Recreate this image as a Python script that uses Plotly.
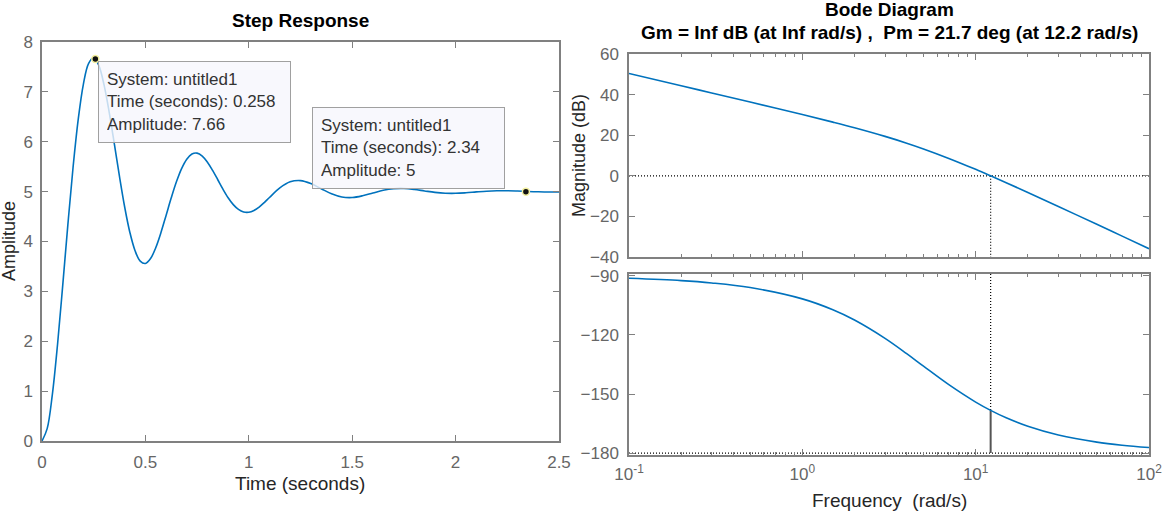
import plotly.graph_objects as go

W, H = 1169, 513

# ---------------- data ----------------
time_s = [0.0, 0.025, 0.05, 0.075, 0.1, 0.125, 0.15, 0.175, 0.2, 0.225, 0.25, 0.275,
          0.3, 0.325, 0.35, 0.375, 0.4, 0.425, 0.45, 0.475, 0.5, 0.525, 0.55, 0.575,
          0.6, 0.625, 0.65, 0.675, 0.7, 0.725, 0.75, 0.775, 0.8, 0.825, 0.85, 0.875,
          0.9, 0.925, 0.95, 0.975, 1.0, 1.025, 1.05, 1.075, 1.1, 1.15, 1.2, 1.25,
          1.3, 1.35, 1.4, 1.45, 1.5, 1.55, 1.6, 1.65, 1.7, 1.75, 1.8, 1.85, 1.9,
          1.95, 2.0, 2.05, 2.1, 2.15, 2.2, 2.25, 2.3, 2.35, 2.4, 2.45, 2.5]
amplitude = [0.0, 0.248, 0.931, 1.930, 3.109, 4.334, 5.479, 6.443, 7.152, 7.568, 7.685, 7.526,
             7.140, 6.590, 5.952, 5.295, 4.687, 4.181, 3.815, 3.607, 3.560, 3.658, 3.876, 4.177,
             4.523, 4.875, 5.197, 5.462, 5.651, 5.755, 5.772, 5.712, 5.590, 5.425, 5.238, 5.049,
             4.878, 4.740, 4.643, 4.592, 4.587, 4.623, 4.691, 4.781, 4.882, 5.073, 5.196, 5.221,
             5.162, 5.058, 4.956, 4.893, 4.882, 4.916, 4.972, 5.026, 5.058, 5.063, 5.044, 5.014, 4.985,
             4.968, 4.966, 4.977, 4.994, 5.009, 5.017, 5.018, 5.012, 5.003, 4.996, 4.992, 4.993]

tip_time = [0.258, 2.34]
tip_amp = [7.66, 5.0]
tip_text = ["System: untitled1<br>Time (seconds): 0.258<br>Amplitude: 7.66",
            "System: untitled1<br>Time (seconds): 2.34<br>Amplitude: 5"]

freq = [0.1, 0.2, 0.3, 0.5, 1, 1.5, 2, 3, 4, 5, 7, 10, 12.2, 15, 20, 30, 50, 70, 100]
mag_db = [50.37, 44.34, 40.81, 36.34, 30.19, 26.45, 23.67, 19.42, 16.08, 13.25, 8.58, 3.17,
          0.0, -3.38, -8.20, -15.10, -23.91, -29.73, -35.92]
phase_deg = [-91.18, -92.36, -93.54, -95.88, -101.64, -107.17, -112.39, -121.71, -129.49,
             -135.84, -145.25, -154.10, -158.30, -162.07, -166.36, -170.81, -174.45, -176.03, -177.22]

wc = 12.2      # gain crossover (rad/s)
pm = 21.7      # phase margin (deg)

step_xticks = [0, 0.5, 1, 1.5, 2, 2.5]
step_xlabels = ["0", "0.5", "1", "1.5", "2", "2.5"]
step_yticks = [0, 1, 2, 3, 4, 5, 6, 7, 8]
mag_ticks = [-40, -20, 0, 20, 40, 60]
phase_ticks = [-180, -150, -120, -90]
freq_ticks = [0.1, 1, 10, 100]
freq_labels = ["10<sup>-1</sup>", "10<sup>0</sup>", "10<sup>1</sup>", "10<sup>2</sup>"]
freq_minor = [m * d for d in (0.1, 1, 10) for m in range(2, 10)]

# ---------------- style ----------------
BLUE = "#0072BD"
AX = "#808080"
TICKC = "#666666"
FONT = "Liberation Sans, Arial, sans-serif"


def px(x):
    return x / W


def py(y):
    return 1 - y / H


fig = go.Figure()

fig.add_trace(go.Scatter(x=time_s, y=amplitude, mode="lines", line=dict(color=BLUE, width=1.6, shape="spline"),
                         xaxis="x", yaxis="y", showlegend=False, hoverinfo="skip"))
fig.add_trace(go.Scatter(x=tip_time, y=tip_amp, mode="markers",
                         marker=dict(color="#111111", size=7, line=dict(color="#f3f0a0", width=1.5)),
                         xaxis="x", yaxis="y", showlegend=False, hoverinfo="skip"))

dot = dict(color="black", width=1.2, dash="1px,2px")
fig.add_trace(go.Scatter(x=[freq[0], freq[-1]], y=[0, 0], mode="lines", line=dot,
                         xaxis="x2", yaxis="y2", showlegend=False, hoverinfo="skip"))
fig.add_trace(go.Scatter(x=[wc, wc], y=[0, -40], mode="lines", line=dot,
                         xaxis="x2", yaxis="y2", showlegend=False, hoverinfo="skip"))
fig.add_trace(go.Scatter(x=freq, y=mag_db, mode="lines", line=dict(color=BLUE, width=1.6, shape="spline"),
                         xaxis="x2", yaxis="y2", showlegend=False, hoverinfo="skip"))

fig.add_trace(go.Scatter(x=[freq[0], freq[-1]], y=[-180, -180], mode="lines", line=dot,
                         xaxis="x3", yaxis="y3", showlegend=False, hoverinfo="skip"))
fig.add_trace(go.Scatter(x=[wc, wc], y=[-89, -180 + pm], mode="lines", line=dot,
                         xaxis="x3", yaxis="y3", showlegend=False, hoverinfo="skip"))
fig.add_trace(go.Scatter(x=[wc, wc], y=[-180 + pm, -180], mode="lines", line=dict(color="#555555", width=2),
                         xaxis="x3", yaxis="y3", showlegend=False, hoverinfo="skip"))
fig.add_trace(go.Scatter(x=freq, y=phase_deg, mode="lines", line=dict(color=BLUE, width=1.6, shape="spline"),
                         xaxis="x3", yaxis="y3", showlegend=False, hoverinfo="skip"))

common = dict(showline=True, linecolor=AX, linewidth=1.5, mirror="ticks", ticks="inside", ticklen=6,
              tickcolor=AX, tickwidth=1, showgrid=False, zeroline=False, automargin=False,
              tickfont=dict(family=FONT, size=17, color=TICKC))
logminor = dict(tickvals=freq_minor, ticks="inside", ticklen=3, tickcolor=AX, tickwidth=1, showgrid=False)

fig.update_layout(
    width=W, height=H, margin=dict(l=0, r=0, t=0, b=0, pad=0),
    paper_bgcolor="white", plot_bgcolor="white",
    font=dict(family=FONT),
    xaxis=dict(domain=[px(42), px(559)], range=[0, 2.5], tickvals=step_xticks, ticktext=step_xlabels,
               anchor="y", ticklabelstandoff=5, **common),
    yaxis=dict(domain=[py(441), py(42)], range=[0, 8], tickvals=step_yticks, anchor="x",
               ticklabelstandoff=4, **common),
    xaxis2=dict(type="log", domain=[px(629), px(1149)], range=[-1, 2], tickvals=freq_ticks,
                showticklabels=False, anchor="y2", minor=logminor, **common),
    yaxis2=dict(domain=[py(257), py(54)], range=[-40, 60], tickvals=mag_ticks, anchor="x2",
                ticklabelstandoff=5, **common),
    xaxis3=dict(type="log", domain=[px(629), px(1149)], range=[-1, 2], tickvals=freq_ticks,
                ticktext=freq_labels, anchor="y3", minor=logminor, ticklabelstandoff=3, **common),
    yaxis3=dict(domain=[py(455), py(274)], range=[-181, -89], tickvals=phase_ticks, anchor="x3",
                ticklabelstandoff=5, **common),
)

ann = []
# titles
ann.append(dict(text="<b>Step Response</b>", x=px(300), y=py(20), font=dict(size=19, color="black")))
ann.append(dict(text="<b>Bode Diagram</b>", x=px(889), y=py(9), font=dict(size=19, color="black")))
ann.append(dict(text="<b>Gm = Inf dB (at Inf rad/s) ,  Pm = %.1f deg (at %.1f rad/s)</b>" % (pm, wc),
                x=px(889), y=py(32), font=dict(size=19, color="black")))
# axis titles
ann.append(dict(text="Time (seconds)", x=px(300), y=py(483), font=dict(size=19, color="#262626")))
ann.append(dict(text="Frequency\u00a0\u00a0(rad/s)", x=px(889), y=py(500), font=dict(size=19, color="#262626")))
ann.append(dict(text="Amplitude", x=px(9), y=py(241), textangle=-90, font=dict(size=18, color="#262626")))
ann.append(dict(text="Magnitude (dB)", x=px(579), y=py(156), textangle=-90, font=dict(size=18, color="#262626")))
for a in ann:
    a.update(xref="paper", yref="paper", showarrow=False, xanchor="center", yanchor="middle")

# data tips
tip_boxes = [(98, 61), (312, 107)]
for (bx, by), txt in zip(tip_boxes, tip_text):
    ann.append(dict(text=txt, xref="paper", yref="paper", x=px(bx), y=py(by), xanchor="left", yanchor="top",
                    showarrow=False, align="left", width=175, height=64, valign="middle",
                    bgcolor="rgba(246,246,252,0.8)", bordercolor="#a0a0a0", borderwidth=1, borderpad=8,
                    font=dict(family=FONT, size=17, color="#333333")))

fig.update_layout(annotations=ann)
fig.write_html("out.html")
